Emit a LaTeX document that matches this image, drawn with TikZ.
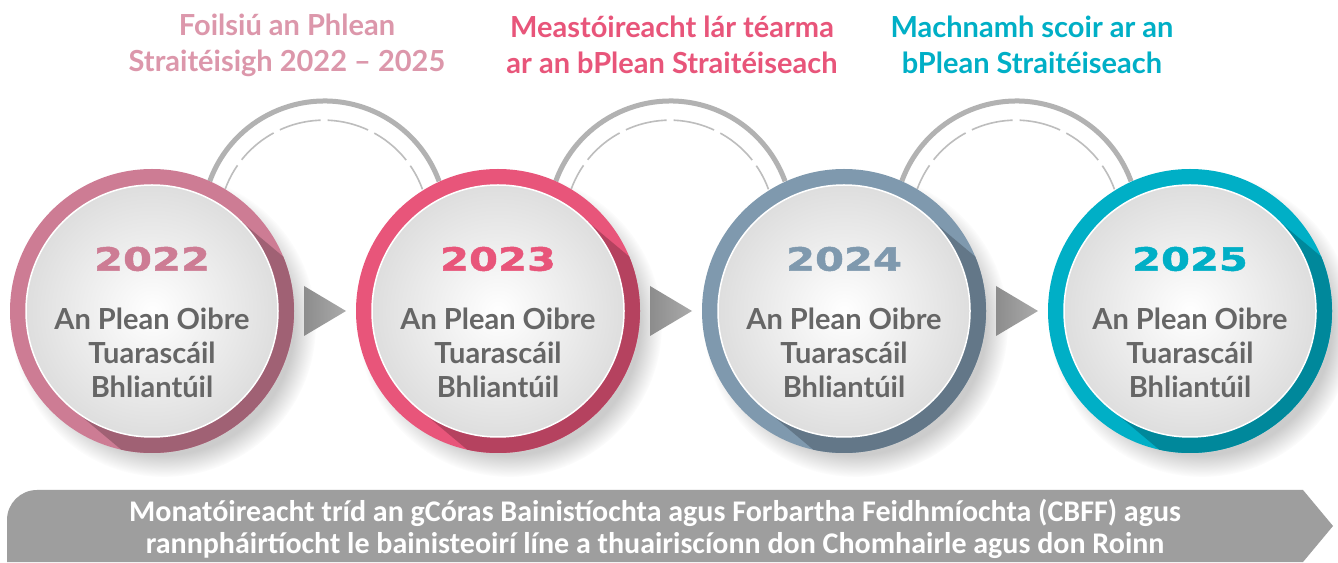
\documentclass[tikz,border=0pt]{standalone}
\usepackage{fontspec}
\setmainfont{Lato}
\newfontfamily\yearfont[FakeStretch=1.3,FakeBold=1.5]{DejaVu Sans}
\newfontfamily\bannerfont{Carlito}
\usetikzlibrary{calc,fadings}

\definecolor{ringA}{HTML}{CD7C94}
\definecolor{ringB}{HTML}{E8557A}
\definecolor{ringC}{HTML}{7F99AE}
\definecolor{ringD}{HTML}{00AFC6}
\definecolor{headA}{HTML}{DC97AB}
\definecolor{textgray}{HTML}{666666}
\definecolor{arcgray}{HTML}{B2B2B2}
\definecolor{dashgray}{HTML}{BDBDBD}
\definecolor{trigray}{HTML}{A0A09E}
\definecolor{bannergray}{HTML}{9E9E9E}

\begin{document}
\begin{tikzpicture}[x=1pt,y=1pt,
	yearring/.style={circle, minimum size=284pt, inner sep=0pt, outer sep=0pt},
	heading/.style={font=\bfseries\fontsize{29}{36}\selectfont, align=center},
	yeartxt/.style={font=\yearfont\bfseries\fontsize{32}{32}\selectfont},
	bodytxt/.style={font=\bfseries\fontsize{29}{34}\selectfont, align=center, text=textgray},
	bannertxt/.style={font=\bannerfont\bfseries\fontsize{30}{32}\selectfont, align=center, text=white},
	arcline/.style={draw=arcgray, line width=5pt},
	dashline/.style={draw=dashgray, line width=1.6pt, dash pattern=on 42pt off 7pt, dash phase=15pt}
	]
	\fill[white] (0,0) rectangle (1338,562);
	\useasboundingbox (0,0) rectangle (1338,562);
	
	% the four year circles, placed first so the arcs can use them
	\foreach \n/\cx in {A/152, B/498, C/844, D/1190}{
		\node[yearring] (c\n) at (\cx,251) {};
		\fill[black, opacity=0.2, path fading=circle with fuzzy edge 15 percent] ($(c\n)+(12,-14)$) circle (152pt);
	}
	
	% arcs over the top
	\foreach \a/\b in {cA/cB, cB/cC, cC/cD}{
		\draw[arcline] (\a.66) arc[start angle=160, end angle=20, radius=122pt];
		\draw[dashline] (\a.59) arc[start angle=160, end angle=20, radius=105pt];
		\shade[left color=black!45, right color=black!33] ($(\a)!0.5!(\b)+(-21,25)$) -- ++(0,-50) -- ++(42,25) -- cycle;
	}
	
	\foreach \n/\col/\yr in {A/ringA/2022, B/ringB/2023, C/ringC/2024, D/ringD/2025}{
		\fill[\col] (c\n) circle (142pt);
		\begin{scope}
			\clip (c\n) circle (142pt);
			\fill[\col!78!black] ($(c\n)+(50:126pt)$) -- ++(-40:300pt) -- ++(230:252pt) -- ($(c\n)+(230:126pt)$) -- cycle;
		\end{scope}
		\shadedraw[draw=white, line width=1.5pt, inner color=white, outer color=black!13] (c\n) circle (126pt);
		\node[yeartxt, text=\col] (y\n) at ($(c\n)+(0,52)$) {\yr};
		\node[bodytxt] (t\n) at ($(c\n)+(0,-42)$) {An Plean Oibre\\Tuarascáil\\Bhliantúil};
	}
	
	% headings
	\node[heading, text=headA] (h1) at (287,517) {Foilsiú an Phlean\\Straitéisigh 2022 – 2025};
	\node[heading, text=ringB] (h2) at (672,517) {Meastóireacht lár téarma\\ar an bPlean Straitéiseach};
	\node[heading, text=ringD] (h3) at (1032,517) {Machnamh scoir ar an\\bPlean Straitéiseach};
	
	% monitoring banner
	\fill[bannergray] (1333,36) -- (1303,72) -- (37,72) arc[start angle=90, end angle=180, radius=30pt] -- (7,0) -- (1303,0) -- cycle;
	\node[bannertxt] (mon) at (655,33) {Monatóireacht tríd an gCóras Bainistíochta agus Forbartha Feidhmíochta (CBFF) agus\\rannpháirtíocht le bainisteoirí líne a thuairiscíonn don Chomhairle agus don Roinn};
\end{tikzpicture}
\end{document}
